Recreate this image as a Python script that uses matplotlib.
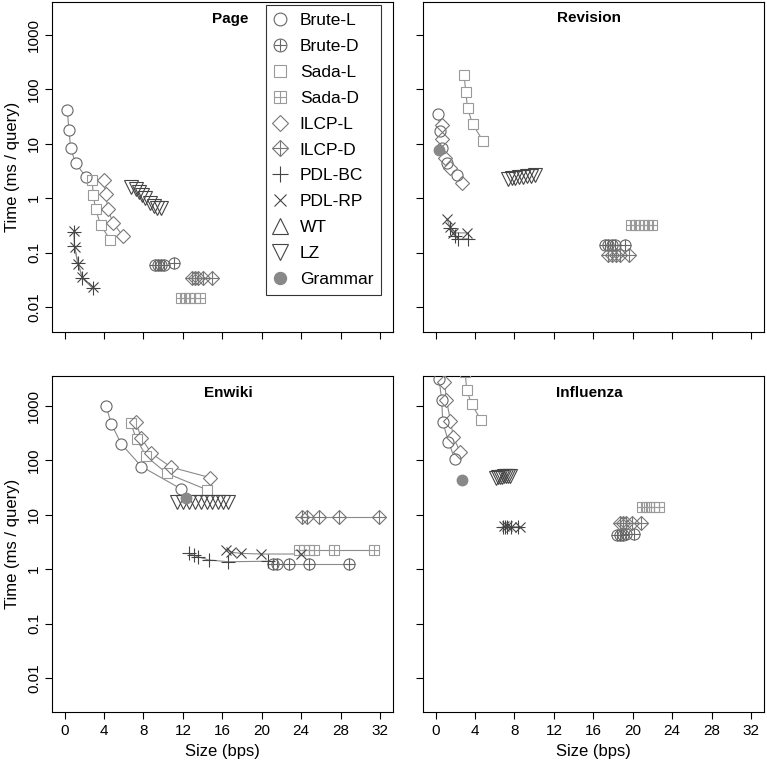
import matplotlib
matplotlib.use('Agg')
import matplotlib.pyplot as plt
from matplotlib.lines import Line2D
from matplotlib.ticker import NullLocator

plt.rcParams['font.family'] = ['Liberation Sans', 'DejaVu Sans']

series = ['Brute-L', 'Brute-D', 'Sada-L', 'Sada-D', 'ILCP-L', 'ILCP-D',
          'PDL-BC', 'PDL-RP', 'WT', 'LZ', 'Grammar']

# values (x = size in bps, y = ms / query)
page = {
    'Brute-L': ([0.27, 0.44, 0.61, 1.12, 2.13], [42, 18, 8.3, 4.4, 2.5]),
    'Brute-D': ([9.2, 9.5, 9.8, 10.1, 11.1], [0.059, 0.059, 0.059, 0.059, 0.065]),
    'Sada-L': ([2.8, 2.9, 3.15, 3.65, 4.65], [2.2, 1.15, 0.63, 0.32, 0.17]),
    'Sada-D': ([11.8, 12.2, 12.6, 13.2, 13.7], [0.0145, 0.0145, 0.0145, 0.0145, 0.0145]),
    'ILCP-L': ([4.0, 4.15, 4.4, 4.9, 5.95], [2.2, 1.2, 0.63, 0.35, 0.2]),
    'ILCP-D': ([12.9, 13.2, 13.5, 14.0, 15.0], [0.034, 0.034, 0.034, 0.034, 0.034]),
    'PDL-BC': ([0.95, 1.0, 1.35, 1.8, 2.85], [0.24, 0.13, 0.065, 0.034, 0.022]),
    'PDL-RP': ([0.95, 1.02, 1.35, 1.8, 2.87], [0.25, 0.125, 0.063, 0.035, 0.023]),
    'LZ': ([6.7, 7.2, 7.55, 7.9, 8.2, 8.65, 9.05, 9.4, 9.8],
           [1.6, 1.5, 1.3, 1.15, 1.0, 0.83, 0.72, 0.65, 0.65]),
}
revision = {
    'Brute-L': ([0.27, 0.45, 0.62, 1.2, 2.2], [36, 17, 8.5, 4.4, 2.7]),
    'Brute-D': ([17.2, 17.5, 17.9, 18.2, 19.2], [0.135, 0.135, 0.135, 0.135, 0.14]),
    'Sada-L': ([2.9, 3.05, 3.25, 3.75, 4.8], [185, 91, 45, 23, 11.4]),
    'Sada-D': ([19.8, 20.2, 20.6, 21.1, 21.6, 22.0], [0.32, 0.32, 0.32, 0.32, 0.32, 0.32]),
    'ILCP-L': ([0.65, 0.65, 0.95, 1.5, 2.65], [22, 12.5, 5.5, 3.6, 1.9]),
    'ILCP-D': ([17.5, 17.9, 18.3, 18.7, 19.6], [0.092, 0.092, 0.09, 0.09, 0.09]),
    'PDL-BC': ([1.45, 1.95, 2.3, 3.3], [0.28, 0.2, 0.175, 0.18]),
    'PDL-RP': ([1.15, 1.45, 1.8, 3.15], [0.41, 0.3, 0.23, 0.23]),
    'LZ': ([7.3, 7.7, 8.1, 8.5, 8.9, 9.3, 9.7, 10.1],
           [2.3, 2.35, 2.4, 2.45, 2.5, 2.55, 2.6, 2.65]),
    'Grammar': ([0.35], [7.7]),
}
enwiki = {
    'Brute-L': ([4.2, 4.75, 5.75, 7.8, 11.8], [1000, 465, 200, 77, 30]),
    'Brute-D': ([21.1, 21.6, 22.8, 24.8, 28.9], [1.25, 1.25, 1.25, 1.25, 1.25]),
    'Sada-L': ([6.7, 7.3, 8.3, 10.35, 14.4], [480, 245, 118, 58, 29]),
    'Sada-D': ([23.8, 24.3, 24.8, 25.3, 27.35, 31.4], [2.3, 2.3, 2.3, 2.3, 2.3, 2.3]),
    'ILCP-L': ([7.2, 7.8, 8.8, 10.8, 14.8], [510, 255, 135, 75, 48]),
    'ILCP-D': ([24.1, 24.6, 25.8, 27.85, 31.9], [9.0, 9.0, 9.0, 9.0, 9.0]),
    'PDL-BC': ([12.6, 13.1, 13.5, 14.6, 16.6, 20.6], [1.95, 1.8, 1.7, 1.48, 1.37, 1.4]),
    'PDL-RP': ([16.4, 16.9, 17.9, 19.9, 24.0], [2.3, 2.05, 1.95, 1.9, 1.9]),
    'LZ': ([11.4, 12.0, 12.6, 13.2, 13.8, 14.4, 15.0, 15.6, 16.1, 16.6],
           [17.4, 17.4, 17.4, 17.4, 17.4, 17.4, 17.4, 17.4, 17.4, 17.4]),
    'Grammar': ([12.3], [20]),
}
influenza = {
    'Brute-L': ([0.35, 0.62, 0.72, 1.3, 1.95], [3100, 1290, 515, 220, 105]),
    'Brute-D': ([18.4, 18.7, 19.0, 19.3, 20.1], [4.3, 4.3, 4.3, 4.35, 4.5]),
    'Sada-L': ([3.0, 3.15, 3.65, 4.6], [4200, 1970, 1090, 550]),
    'Sada-D': ([20.9, 21.3, 21.7, 22.2, 22.7], [14, 14, 14, 14, 14]),
    'ILCP-L': ([0.9, 1.1, 1.5, 1.8, 2.5], [2800, 1300, 540, 270, 140]),
    'ILCP-D': ([18.7, 19.0, 19.3, 19.9, 20.8], [7.0, 7.1, 7.2, 7.2, 7.2]),
    'PDL-BC': ([6.8, 7.0, 7.2, 7.6, 8.4], [6.0, 6.0, 5.9, 5.9, 5.9]),
    'PDL-RP': ([6.9, 7.2, 7.6, 8.6], [6.2, 6.1, 6.0, 6.0]),
    'LZ': ([6.1, 6.3, 6.5, 6.7, 6.9, 7.1, 7.3, 7.5], [48, 49, 50, 50, 51, 51, 52, 52]),
    'Grammar': ([2.65], [44]),
}

x_ticks = [0, 4, 8, 12, 16, 20, 24, 28, 32]
y_ticks = [0.01, 0.1, 1, 10, 100, 1000]
y_labels = ['0.01', '0.1', '1', '10', '100', '1000']

colors = {'Brute-L': '#666666', 'Brute-D': '#666666', 'Sada-L': '#9a9a9a',
          'Sada-D': '#9a9a9a', 'ILCP-L': '#777777', 'ILCP-D': '#777777',
          'PDL-BC': '#444444', 'PDL-RP': '#444444', 'WT': '#444444',
          'LZ': '#444444', 'Grammar': '#888888'}
markers = {'Brute-L': [('o', 8)], 'Brute-D': [('o', 8), ('+', 8)],
           'Sada-L': [('s', 7.5)], 'Sada-D': [('s', 7.5), ('+', 7.5)],
           'ILCP-L': [('D', 7)], 'ILCP-D': [('D', 7), ('+', 9.9)],
           'PDL-BC': [('+', 9.5)], 'PDL-RP': [('x', 7.5)],
           'WT': [('^', 9.5)], 'LZ': [('v', 9.5)], 'Grammar': [('o', 7.5)]}


def draw(ax, data):
    for name in series:
        if name not in data:
            continue
        xs, ys = data[name]
        c = colors[name]
        ax.plot(xs, ys, '-', color='#8a8a8a', lw=0.8, zorder=1)
        for m, s in markers[name]:
            if name == 'Grammar':
                ax.plot(xs, ys, ls='none', marker=m, ms=s, mfc=c, mec=c, zorder=4)
                continue
            if m in 'osDv^':
                ax.plot(xs, ys, ls='none', marker=m, ms=s, mfc='white', mec='none', zorder=2)
            ax.plot(xs, ys, ls='none', marker=m, ms=s, mfc='none', mec=c, mew=0.8, zorder=3)


fig = plt.figure(figsize=(7.67, 7.62), dpi=100)
W, H = 767, 762
pw = 340.6
panels = [
    ('Page', page, 52, 2, 332, (10 ** -2.46, 10 ** 3.607), 16.8),
    ('Revision', revision, 423, 2, 332, (10 ** -2.46, 10 ** 3.607), 15.6),
    ('Enwiki', enwiki, 52, 376, 712, (10 ** -2.625, 10 ** 3.551), 16.6),
    ('Influenza', influenza, 423, 376, 712, (10 ** -2.625, 10 ** 3.551), 15.6),
]
axes = []
for i, (title, data, left, top, bottom, ylim, tx) in enumerate(panels):
    ax = fig.add_axes([left / W, (H - bottom) / H, pw / W, (bottom - top) / H])
    draw(ax, data)
    ax.set_yscale('log')
    ax.set_xlim(-1.28, 33.28)
    ax.set_ylim(*ylim)
    ax.set_xticks(x_ticks)
    ax.set_yticks(y_ticks)
    ax.yaxis.set_minor_locator(NullLocator())
    ax.tick_params(direction='out', length=4.7, width=0.8, labelsize=11, color='black')
    ax.tick_params(axis='x', pad=4)
    ax.tick_params(axis='y', pad=3)
    for sp in ax.spines.values():
        sp.set_linewidth(0.8)
    if i % 2 == 0:
        ax.set_yticklabels(y_labels, rotation=90, va='center')
        ax.set_ylabel('Time (ms / query)', fontsize=12, labelpad=5)
    else:
        ax.set_yticklabels([])
    if i >= 2:
        ax.set_xticklabels([str(t) for t in x_ticks])
        ax.set_xlabel('Size (bps)', fontsize=12, labelpad=4)
    else:
        ax.set_xticklabels([])
    ax.text(tx, 1 - 16.5 / (bottom - top), title, transform=ax.get_xaxis_transform(),
            fontsize=11, fontweight='bold', ha='center', va='center')
    axes.append(ax)

handles = []
for name in series:
    c = colors[name]
    parts = []
    for m, s in markers[name]:
        if name == 'Grammar':
            parts.append(Line2D([], [], ls='none', marker=m, ms=s, mfc=c, mec=c))
        else:
            parts.append(Line2D([], [], ls='none', marker=m, ms=s, mfc='none', mec=c, mew=0.8))
    handles.append(tuple(parts))

leg = axes[0].legend(handles, series, loc='upper right', bbox_to_anchor=(0.966, 0.991),
                     frameon=True, fancybox=False, edgecolor='black', fontsize=12.5,
                     labelspacing=0.62, handlelength=0.7, handletextpad=0.8,
                     borderpad=0.45, borderaxespad=0, markerscale=1.15)
leg.get_frame().set_linewidth(0.8)

fig.savefig('out.png', dpi=100)
